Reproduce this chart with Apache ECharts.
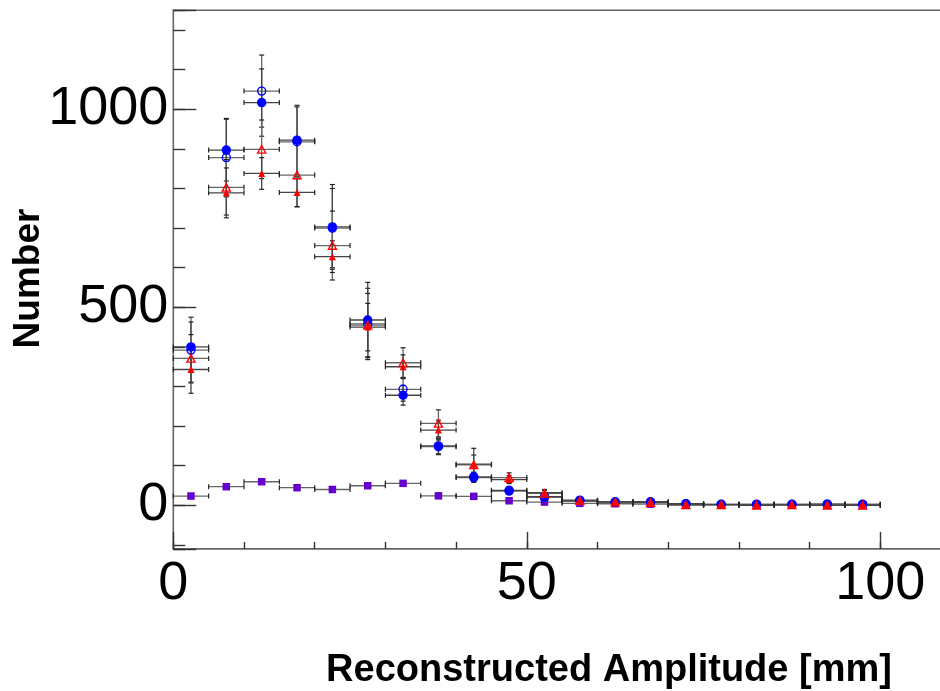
<!DOCTYPE html>
<html>
<head>
<meta charset="utf-8">
<script src="https://cdn.jsdelivr.net/npm/echarts@6/dist/echarts.min.js"></script>
<style>
  html, body { margin: 0; padding: 0; background: #ffffff; }
  #chart { width: 940px; height: 691px; }
</style>
</head>
<body>
<div id="chart"></div>
<script>
// Bin centres of the amplitude histogram (5 mm bins) and half bin width
const binCenters = [2.5, 7.5, 12.5, 17.5, 22.5, 27.5, 32.5, 37.5, 42.5, 47.5,
                    52.5, 57.5, 62.5, 67.5, 72.5, 77.5, 82.5, 87.5, 92.5, 97.5];
const binHalfWidth = 2.5;

// Blue, filled circles
const blueFilled    = [400, 897, 1017, 922, 703, 468, 278, 150, 72, 38, 22, 13, 9, 9, 4, 2.5, 2.5, 2.5, 3, 2.5];
const blueFilledErr = [63, 78, 85, 88, 107, 95, 25, 20, 12, 8, 5, 4, 3, 3, 2, 1, 1, 1, 1, 1];
// Blue, open circles
const blueOpen      = [392, 878, 1046, 918, 700, 458, 293, 148, 70, 36, 20, 12, 8, 8, 4, 2.5, 2.5, 2.5, 3, 2.5];
const blueOpenErr   = [83, 99, 91, 88, 100, 90, 30, 20, 12, 8, 5, 4, 3, 3, 2, 1, 1, 1, 1, 1];
// Red, open triangles
const redOpen       = [371, 803, 899, 834, 656, 455, 360, 207, 102, 70, 30, 12, 8, 7, 1, 1.6, 0, 1, 0, 0];
const redOpenErr    = [60, 70, 74, 80, 87, 80, 38, 34, 25, 12, 8, 5, 3, 3, 2, 1, 1, 1, 1, 1];
// Red, filled triangles
const redFilled     = [343, 789, 838, 790, 628, 450, 350, 190, 104, 65, 32, 11, 8, 6.6, 1, 1.6, 0, 1, 0, 0];
const redFilledErr  = [60, 63, 40, 36, 40, 60, 30, 25, 40, 10, 8, 4, 3, 3, 1, 1, 1, 1, 1, 1];
// Violet, filled squares
const violet        = [23.5, 47, 59.6, 44.5, 40, 49.5, 55.5, 24, 22.7, 11.6, 8.3, 5, 4, 3, 2, 1, 1, 1, 1, 1];
const violetErr     = [0, 0, 0, 0, 0, 0, 0, 0, 0, 0, 0, 0, 0, 0, 0, 0, 0, 0, 0, 0];

// Labelled tick values
const xTickLabels = [0, 50, 100];
const yTickLabels = [0, 500, 1000];

const FONT = '"Liberation Sans", Arial, Helvetica, sans-serif';
const X_MIN = 0, X_MAX = 110, Y_MIN = -110, Y_MAX = 1250;

function points(values) {
  return binCenters.map((c, i) => [c, values[i]]);
}
function pointsWithErr(values, errs) {
  return binCenters.map((c, i) => [c, values[i], errs[i]]);
}

// Horizontal (bin width) and vertical (statistical) error bars with end caps
function errorBars(values, errs, color) {
  return {
    type: 'custom',
    z: 1,
    silent: true,
    data: pointsWithErr(values, errs),
    encode: { x: 0, y: 1 },
    renderItem: function (params, api) {
      const x = api.value(0), y = api.value(1), e = api.value(2);
      const l = api.coord([x - binHalfWidth, y]);
      const r = api.coord([x + binHalfWidth, y]);
      const st = { stroke: color, lineWidth: 1.3 };
      const capSt = { stroke: '#222222', lineWidth: 1.2 };
      const cap = 2.5;
      const kids = [
        { type: 'line', shape: { x1: l[0], y1: l[1], x2: r[0], y2: r[1] }, style: st },
        { type: 'line', shape: { x1: l[0], y1: l[1] - cap, x2: l[0], y2: l[1] + cap }, style: capSt },
        { type: 'line', shape: { x1: r[0], y1: r[1] - cap, x2: r[0], y2: r[1] + cap }, style: capSt }
      ];
      if (e > 0) {
        const t = api.coord([x, y + e]);
        const b = api.coord([x, y - e]);
        kids.push(
          { type: 'line', shape: { x1: t[0], y1: t[1], x2: b[0], y2: b[1] }, style: st },
          { type: 'line', shape: { x1: t[0] - cap, y1: t[1], x2: t[0] + cap, y2: t[1] }, style: capSt },
          { type: 'line', shape: { x1: b[0] - cap, y1: b[1], x2: b[0] + cap, y2: b[1] }, style: capSt }
        );
      }
      return { type: 'group', children: kids };
    }
  };
}

function markers(values, symbol, size, fill, stroke, z) {
  return {
    type: 'scatter',
    z: z,
    silent: true,
    data: points(values),
    symbol: symbol,
    symbolSize: size,
    itemStyle: { color: fill, borderColor: stroke, borderWidth: fill === 'rgba(0,0,0,0)' ? 1.4 : 0, opacity: 1 }
  };
}

const hiddenLine = { show: false, onZero: false };
const hidden = { show: false };
const tickStyle = { color: '#333333', width: 1.4 };

const chart = echarts.init(document.getElementById('chart'), null, { renderer: 'canvas' });
chart.setOption({
  animation: false,
  backgroundColor: '#ffffff',
  grid: {
    left: 173.3, top: 10.3, width: 777.7, height: 538.6,
    outerBoundsMode: 'none', containLabel: false,
    show: true, borderColor: '#666666', borderWidth: 1.6, backgroundColor: 'transparent'
  },
  xAxis: [
    {
      type: 'value', min: X_MIN, max: X_MAX, interval: 10, position: 'bottom',
      axisLine: hiddenLine, splitLine: hidden, axisLabel: hidden,
      axisTick: { show: true, inside: true, length: 7, lineStyle: tickStyle }
    },
    {
      type: 'value', min: X_MIN, max: X_MAX, interval: 50, position: 'bottom',
      axisLine: hiddenLine, splitLine: hidden,
      axisTick: { show: true, inside: true, length: 17, lineStyle: tickStyle },
      axisLabel: {
        show: true, margin: 8, fontSize: 54, fontFamily: FONT, color: '#000000',
        showMaxLabel: false,
        formatter: v => (xTickLabels.indexOf(v) >= 0 ? String(v) : '')
      }
    }
  ],
  yAxis: [
    {
      type: 'value', min: Y_MIN, max: Y_MAX, minInterval: 100, maxInterval: 100, splitNumber: 14,
      position: 'left',
      axisLine: hiddenLine, splitLine: hidden, axisLabel: hidden,
      axisTick: { show: true, inside: true, length: 12, lineStyle: tickStyle }
    },
    {
      type: 'value', min: Y_MIN, max: Y_MAX, minInterval: 500, maxInterval: 500, splitNumber: 3,
      position: 'left',
      axisLine: hiddenLine, splitLine: hidden,
      axisTick: { show: true, inside: true, length: 23, lineStyle: tickStyle },
      axisLabel: {
        show: true, margin: 5, fontSize: 54, fontFamily: FONT, color: '#000000',
        padding: [5, 0, 0, 0],
        formatter: v => (yTickLabels.indexOf(v) >= 0 ? String(v) : '')
      }
    }
  ],
  graphic: [
    {
      type: 'text', x: 609, y: 670.5, silent: true,
      style: {
        text: 'Reconstructed Amplitude [mm]', fill: '#000000',
        font: 'bold 38px ' + FONT, align: 'center', verticalAlign: 'middle'
      }
    },
    {
      type: 'text', x: 29, y: 278.5, rotation: Math.PI / 2, silent: true,
      style: {
        text: 'Number', fill: '#000000',
        font: 'bold 37px ' + FONT, align: 'center', verticalAlign: 'middle'
      }
    }
  ],
  series: [
    errorBars(violet, violetErr, '#666666'),
    errorBars(blueOpen, blueOpenErr, '#666666'),
    errorBars(blueFilled, blueFilledErr, '#444444'),
    errorBars(redOpen, redOpenErr, '#666666'),
    errorBars(redFilled, redFilledErr, '#444444'),
    markers(violet, 'rect', 7.5, '#6600cc', '#6600cc', 3),
    markers(blueOpen, 'circle', 8, 'rgba(0,0,0,0)', '#0000ff', 4),
    markers(blueFilled, 'circle', 9.5, '#0000ff', '#0000ff', 5),
    markers(redOpen, 'triangle', [8, 7.5], 'rgba(0,0,0,0)', '#ff0000', 6),
    markers(redFilled, 'triangle', [7, 7], '#ff0000', '#ff0000', 7)
  ]
});
</script>
</body>
</html>
